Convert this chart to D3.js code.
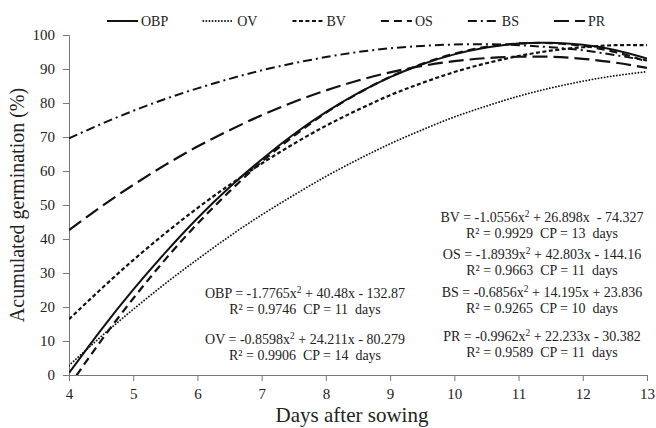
<!DOCTYPE html>
<html>
<head>
<meta charset="utf-8">
<script src="https://cdn.jsdelivr.net/npm/d3@7"></script>
<style>
  body { margin: 0; background: #fff; }
  svg text { font-family: "Liberation Serif", "Times New Roman", serif; fill: #222; }
</style>
</head>
<body>
<svg id="chart"></svg>
<script>
// days after sowing (half-day steps)
const days = [4, 4.5, 5, 5.5, 6, 6.5, 7, 7.5, 8, 8.5, 9, 9.5, 10, 10.5, 11, 11.5, 12, 12.5, 13];

// accumulated germination (%)
const obp = [0.6, 13.3, 25.1, 36.0, 46.1, 55.2, 63.4, 70.8, 77.3, 82.9, 87.6, 91.4, 94.3, 96.3, 97.5, 97.7, 97.1, 95.6, 93.1];
const ov  = [2.8, 11.3, 19.3, 26.9, 34.0, 40.8, 47.1, 52.9, 58.4, 63.4, 68.0, 72.1, 75.9, 79.1, 82.0, 84.4, 86.4, 88.0, 89.2];
const bv  = [16.4, 25.3, 33.8, 41.7, 49.1, 55.9, 62.2, 68.0, 73.3, 78.0, 82.3, 85.9, 89.1, 91.7, 93.8, 95.4, 96.4, 97.0, 97.0];
const os  = [-3.3, 10.1, 22.5, 34.0, 44.5, 54.0, 62.7, 70.3, 77.1, 82.8, 87.7, 91.5, 94.5, 96.5, 97.5, 97.6, 96.8, 95.0, 92.2];
const bs  = [69.6, 73.8, 77.7, 81.2, 84.3, 87.1, 89.6, 91.7, 93.5, 95.0, 96.1, 96.8, 97.2, 97.3, 97.0, 96.4, 95.5, 94.1, 92.5];
const pr  = [42.6, 49.5, 55.9, 61.8, 67.2, 72.0, 76.4, 80.3, 83.7, 86.6, 89.0, 90.9, 92.3, 93.2, 93.6, 93.6, 93.0, 91.9, 90.3];

const seriesNames = ['OBP', 'OV', 'BV', 'OS', 'BS', 'PR'];
const seriesValues = [obp, ov, bv, os, bs, pr];

const xTicks = [4, 5, 6, 7, 8, 9, 10, 11, 12, 13];
const yTicks = [0, 10, 20, 30, 40, 50, 60, 70, 80, 90, 100];

// regression labels: text before the x², text after it, R² / CP line
const eqLeft = [
    ['OBP = -1.7765x', ' + 40.48x - 132.87', 'R\u00b2 = 0.9746  CP = 11  days'],
    ['OV = -0.8598x', ' + 24.211x - 80.279', 'R\u00b2 = 0.9906  CP = 14  days']
];
const eqRight = [
    ['BV = -1.0556x', ' + 26.898x  - 74.327', 'R\u00b2 = 0.9929  CP = 13  days'],
    ['OS = -1.8939x', ' + 42.803x - 144.16', 'R\u00b2 = 0.9663  CP = 11  days'],
    ['BS = -0.6856x', ' + 14.195x + 23.836', 'R\u00b2 = 0.9265  CP = 10  days'],
    ['PR = -0.9962x', ' + 22.233x - 30.382', 'R\u00b2 = 0.9589  CP = 11  days']
];

const width = 656, height = 428;
const margin = { top: 35, right: 9, bottom: 53, left: 69 };
const w = width - margin.left - margin.right;
const h = height - margin.top - margin.bottom;

const styles = {
    OBP: { dash: null, sw: 2, cap: 'butt' },
    OV: { dash: '0.1 3', sw: 1.8, cap: 'round' },
    BV: { dash: '4 2.5', sw: 2.2, cap: 'butt' },
    OS: { dash: '8 5', sw: 2.2, cap: 'butt' },
    BS: { dash: '9 4 2 4', sw: 2, cap: 'butt' },
    PR: { dash: '15 6', sw: 2.2, cap: 'butt' }
};

const svg = d3.select('#chart').attr('width', width).attr('height', height);
const chart = svg.append('g').attr('transform', `translate(${margin.left},${margin.top})`);

const x = d3.scaleLinear().domain([4, 13]).range([0, w]);
const y = d3.scaleLinear().domain([0, 100]).range([h, 0]);

// axes
const xAxis = d3.axisBottom(x).tickValues(xTicks).tickSize(6).tickPadding(7).tickFormat(d3.format('d'));
const xAxisG = chart.append('g').attr('transform', `translate(0,${h})`).call(xAxis);
const yAxis = d3.axisLeft(y).tickValues(yTicks).tickSize(6).tickPadding(8).tickFormat(d3.format('d'));
const yAxisG = chart.append('g').call(yAxis);

[xAxisG, yAxisG].forEach(g => {
    g.select('.domain').attr('stroke', '#777').attr('stroke-width', 1);
    g.selectAll('.tick line').attr('stroke', '#777');
    g.selectAll('.tick text').style('font-size', '15px').attr('fill', '#222');
});

chart.append('text')
    .attr('x', w / 2 - 6).attr('y', h + 47)
    .attr('text-anchor', 'middle')
    .style('font-size', '21px')
    .text('Days after sowing');

chart.append('text')
    .attr('transform', `translate(-45,${h / 2}) rotate(-90)`)
    .attr('text-anchor', 'middle')
    .style('font-size', '20px')
    .text('Acumulated germination (%)');

// curves
chart.append('clipPath').attr('id', 'plot-clip')
    .append('rect').attr('x', 0).attr('y', -10).attr('width', w).attr('height', h + 10);

const line = d3.line()
    .x(d => x(d[0]))
    .y(d => y(d[1]))
    .curve(d3.curveNatural);

const curves = chart.append('g').attr('clip-path', 'url(#plot-clip)');
seriesNames.forEach((name, i) => {
    const st = styles[name];
    curves.append('path')
        .datum(days.map((d, j) => [d, seriesValues[i][j]]))
        .attr('fill', 'none')
        .attr('stroke', '#111')
        .attr('stroke-width', st.sw)
        .attr('stroke-linecap', st.cap)
        .attr('stroke-dasharray', st.dash)
        .attr('d', line);
});

// legend
const legend = svg.append('g').attr('transform', 'translate(107,21)');
let lx = 0;
seriesNames.forEach(name => {
    const st = styles[name];
    const g = legend.append('g').attr('transform', `translate(${lx},0)`);
    g.append('line')
        .attr('x1', 0).attr('x2', 31).attr('y1', 0).attr('y2', 0)
        .attr('stroke', '#111')
        .attr('stroke-width', st.sw)
        .attr('stroke-linecap', st.cap)
        .attr('stroke-dasharray', st.dash);
    const t = g.append('text')
        .attr('x', 34).attr('dy', '0.35em')
        .style('font-size', '14px')
        .text(name);
    lx += 34 + t.node().getComputedTextLength() + 35;
});

// equation labels
function eqBlock(rows, cx, ys) {
    rows.forEach((r, i) => {
        const t = svg.append('text')
            .attr('x', cx).attr('y', ys[i])
            .attr('text-anchor', 'middle')
            .style('font-size', '14px')
            .style('white-space', 'pre');
        t.append('tspan').text(r[0]);
        t.append('tspan').attr('dy', -5).style('font-size', '9.5px').text('2');
        t.append('tspan').attr('dy', 5).text(r[1]);
        svg.append('text')
            .attr('x', cx).attr('y', ys[i] + 16)
            .attr('text-anchor', 'middle')
            .style('font-size', '14px')
            .style('white-space', 'pre')
            .text(r[2]);
    });
}
eqBlock(eqLeft, 305, [298, 344]);
eqBlock(eqRight, 542, [222, 259, 297, 341]);
</script>
</body>
</html>
